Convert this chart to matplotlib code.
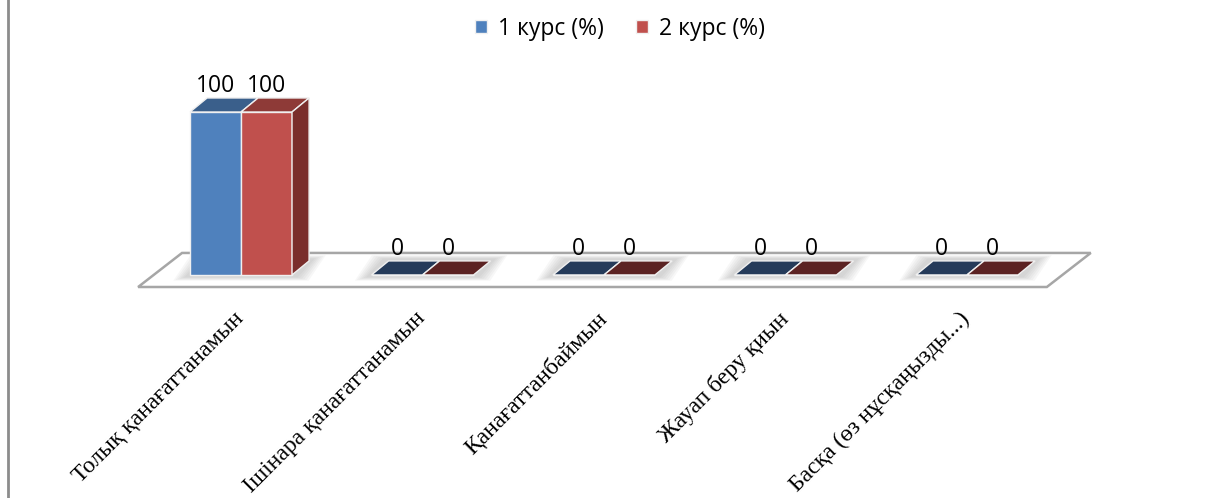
import matplotlib
matplotlib.use('Agg')
import matplotlib.pyplot as plt
from matplotlib.patches import Polygon
from matplotlib.lines import Line2D
from matplotlib.transforms import ScaledTranslation
import numpy as np

categories = ['Толық қанағаттанамын', 'Ішінара қанағаттанамын', 'Қанағаттанбаймын',
              'Жауап беру қиын', 'Басқа (өз нұсқаңызды...)']
course1 = [100, 0, 0, 0, 0]
course2 = [100, 0, 0, 0, 0]
series_names = ['1 курс (%)', '2 курс (%)']

plt.rcParams['font.family'] = ['Open Sans', 'DejaVu Sans']

front_colors = ['#4F81BD', '#C0504D']
top_colors = ['#3A5F8B', '#8E3A37']
flat_colors = ['#253B5A', '#5C2323']
side_color = '#7A2E2C'

fig = plt.figure(figsize=(12.08, 4.98), dpi=100)
ax = fig.add_axes([0, 211 / 498, 1, 227 / 498])
ax.set_xlim(-1.328, 5.328)
ax.set_ylim(-7.4, 131.9)
ax.patch.set_visible(False)
for s in ax.spines.values():
    s.set_visible(False)
ax.set_yticks([])

x = np.arange(len(categories))
w = 0.281
bdx, bdy = 0.094, 8.6   # bar depth
fdx, fdy = 0.242, 20.9  # floor depth

# floor
fy = ax.get_ylim()[0]
fx0, fx1 = x[0] - 0.567, x[-1] + 0.44
ax.add_patch(Polygon([(fx0, fy), (fx1, fy), (fx1 + fdx, fy + fdy), (fx0 + fdx, fy + fdy)],
                     closed=True, fc='white', ec='#a6a6a6', lw=1.8, zorder=1, clip_on=False))

# soft shadows under each group
for i in x:
    for k in range(6):
        pad = 0.012 * (k + 1)
        x0 = i - w - pad - 0.02
        x1 = i + w + pad + 0.02
        y0 = -1.5 - k * 0.4
        y1 = bdy + 1.5 + k * 0.4
        ax.add_patch(Polygon([(x0, y0), (x1, y0), (x1 + bdx, y1), (x0 + bdx, y1)],
                             closed=True, fc='#7f7f7f', ec='none', alpha=0.06, zorder=2))

series = [course1, course2]
offsets = [-w / 2, w / 2]
handles = []
for s, vals in enumerate(series):
    xs = x + offsets[s]
    bars = ax.bar(xs, vals, w, color=front_colors[s], edgecolor='#f0f0f0', lw=1,
                  zorder=3, label=series_names[s])
    handles.append(bars)
    for xc, v in zip(xs, vals):
        xl, xr = xc - w / 2, xc + w / 2
        tc = top_colors[s] if v > 0 else flat_colors[s]
        ax.add_patch(Polygon([(xl, v), (xr, v), (xr + bdx, v + bdy), (xl + bdx, v + bdy)],
                             closed=True, fc=tc, ec='#f0f0f0', lw=1, zorder=4))
        if s == len(series) - 1 and v > 0:
            ax.add_patch(Polygon([(xr, 0), (xr + bdx, bdy), (xr + bdx, v + bdy), (xr, v)],
                                 closed=True, fc=side_color, ec='#f0f0f0', lw=1, zorder=4))
        ax.annotate(str(v), (xc, v + bdy), xytext=(0, 0), textcoords='offset points',
                    ha='center', va='bottom', fontsize=16.5, color='black', zorder=5)

ax.set_xticks(x)
ax.set_xticklabels(categories, rotation=45, ha='right', rotation_mode='anchor',
                   fontsize=17, family='Liberation Serif')
ax.tick_params(axis='x', length=0, pad=15)
shift = ScaledTranslation(-8 / 100, 0, fig.dpi_scale_trans)
for lab in ax.get_xticklabels():
    lab.set_transform(lab.get_transform() + shift)

leg = fig.legend(handles, series_names, loc='upper center', bbox_to_anchor=(0.513, 1.008),
                 ncol=2, frameon=False, fontsize=16.5, handlelength=0.55, handleheight=0.55,
                 handletextpad=0.45, columnspacing=1.4)

fig.add_artist(Line2D([8 / 1208, 8 / 1208], [0, 1], transform=fig.transFigure,
                      color='#8c8c8c', lw=2))

fig.savefig('out.png', dpi=100)
